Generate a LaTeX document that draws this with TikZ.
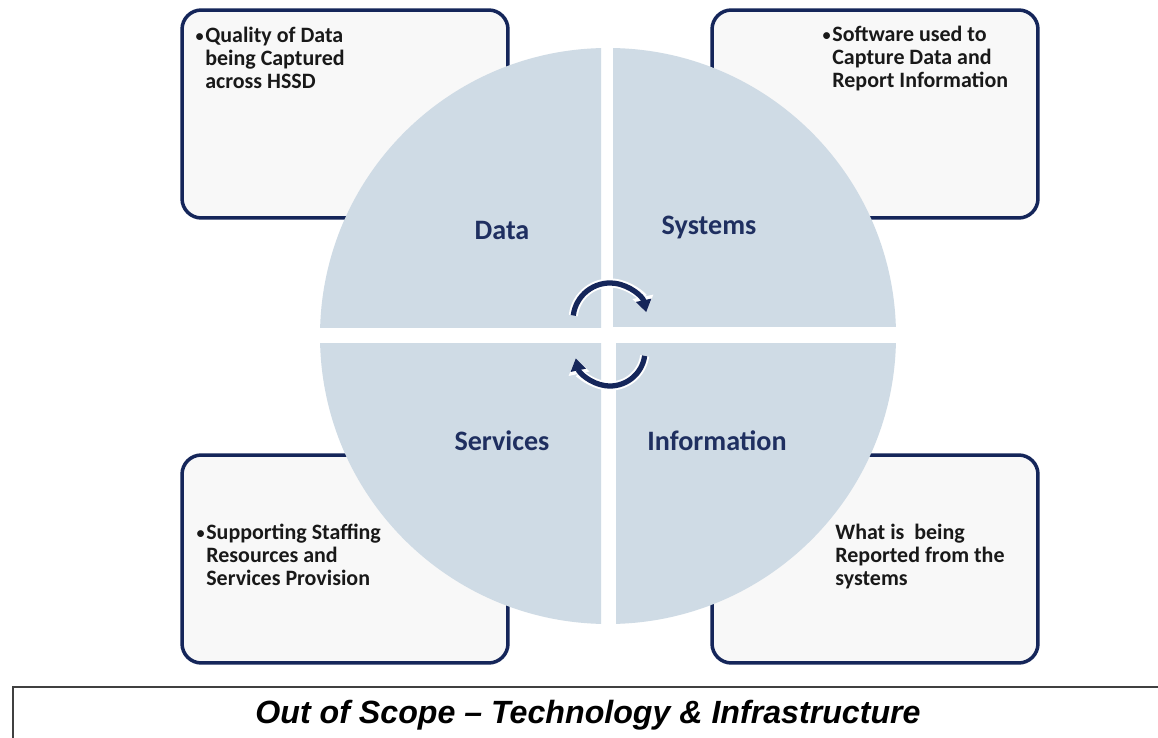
\documentclass[tikz,border=0pt]{standalone}
\usepackage{fontspec}
\setmainfont{Carlito}
\newfontfamily\arialfont{Liberation Sans}
\usetikzlibrary{arrows.meta}
\definecolor{navy}{HTML}{15265A}
\definecolor{quarter}{HTML}{CFDBE5}
\definecolor{boxfill}{HTML}{F8F8F8}
\definecolor{labelblue}{HTML}{1F2F60}
\newcommand{\mybullet}{\llap{\mdseries\fontsize{11}{11}\selectfont•\hspace{0.5pt}}}
\begin{document}
\begin{tikzpicture}[x=0.02cm,y=0.02cm,
 infobox/.style={draw=navy,line width=2pt,fill=boxfill,rounded corners=11pt,minimum width=6.52cm,minimum height=4.16cm,inner sep=0pt},
 boxtext/.style={anchor=base west,align=left,font=\fontsize{12.5}{13.2}\selectfont\bfseries,text=black!90,inner sep=0pt},
 qlabel/.style={font=\fontsize{16}{19}\selectfont\bfseries,text=labelblue,inner sep=0pt},
 cyc/.style={line width=3pt,draw=navy,-{Triangle[length=7pt,width=8.5pt]}},
 cycglow/.style={line width=5.2pt,draw=white,-{Triangle[length=9pt,width=11.5pt]}}
]
\clip (0,0) rectangle (1158,737);
\fill[white] (0,0) rectangle (1158,737);
% info boxes
\node[infobox] (tlbox) at (345,623) {};
\node[infobox] (trbox) at (875,623) {};
\node[infobox] (blbox) at (345,178) {};
\node[infobox] (brbox) at (875,178) {};
% circle quarters
\coordinate (c) at (608,401);
\begin{scope}\clip (0,409) rectangle (601,737); \fill[quarter] (c) circle[radius=288]; \end{scope}
\begin{scope}\clip (613,410) rectangle (1158,737); \fill[quarter] (c) circle[radius=288]; \end{scope}
\begin{scope}\clip (0,0) rectangle (601,393); \fill[quarter] (c) circle[radius=288]; \end{scope}
\begin{scope}\clip (616,0) rectangle (1158,393); \fill[quarter] (c) circle[radius=288]; \end{scope}
% quarter labels
\node[qlabel] (data) at (502,507) {Data};
\node[qlabel] (systems) at (709,510) {Systems};
\node[qlabel] (services) at (502,296) {Services};
\node[qlabel] (information) at (717,296) {Information};
% cycle arrows
\draw[cycglow] ([shift={(173:37)}]610,417) arc[start angle=173,end angle=12,radius=37];
\draw[cyc] ([shift={(173:37)}]610,417) arc[start angle=173,end angle=12,radius=37];
\draw[cycglow] ([shift={(-8:35)}]610,386) arc[start angle=-8,end angle=-168,radius=35];
\draw[cyc] ([shift={(-8:35)}]610,386) arc[start angle=-8,end angle=-168,radius=35];
% box texts (anchored at the baseline of their last line)
\node[boxtext] (tltext) at (205,648.5) {\mybullet Quality of Data\\being Captured\\across HSSD};
\node[boxtext] (trtext) at (832,649.5) {\mybullet Software used to\\Capture Data and\\Report Information};
\node[boxtext] (bltext) at (206,151.5) {\mybullet Supporting Staffing\\Resources and\\Services Provision};
\node[boxtext] (brtext) at (835,151.5) {What is\ \ being\\Reported from the\\systems};
% out of scope bar
\node[draw=black!75,line width=1pt,anchor=north west,minimum width=23.6cm,minimum height=1.4cm,inner sep=0pt] (scopebar) at (12,51) {};
\node[anchor=base,font=\arialfont\bfseries\itshape\fontsize{18.3}{21}\selectfont,inner sep=0pt] (scopetext) at (588,14) {Out of Scope – Technology \& Infrastructure};
\end{tikzpicture}
\end{document}
